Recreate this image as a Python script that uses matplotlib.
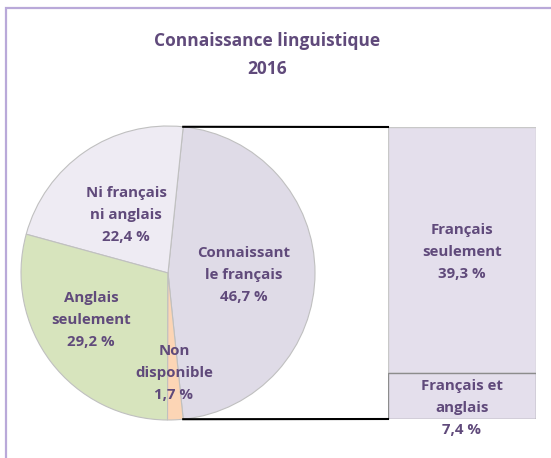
import numpy as np
import matplotlib.pyplot as plt
from matplotlib.patches import Rectangle

plt.rcParams['font.family'] = ['Open Sans', 'DejaVu Sans']

# Pie data (counter-clockwise, starting with the exploded slice)
pie_labels = ["Connaissant\nle français", "Ni français\nni anglais",
              "Anglais\nseulement", "Non\ndisponible"]
pie_values = [46.7, 22.4, 29.2, 1.7]
pie_colors = ["#dfdbe7", "#eeebf3", "#d7e4bd", "#fcd5b5"]

# Breakdown of "Connaissant le français" (bottom to top)
bar_labels = ["Français et\nanglais", "Français\nseulement"]
bar_values = [7.4, 39.3]
bar_colors = ["#e4dfec", "#e4dfec"]
bar_edges = ["#8c8c8c", "#c8c8c8"]

txt_color = "#604a7b"

W, H = 551, 458
fig = plt.figure(figsize=(W / 100, H / 100), dpi=100)

# bar of pie (added first so that the texts of the main axes sit on top)
bx0, bx1, by0, by1 = 388, 536, 39, 331
bax = fig.add_axes([bx0 / W, by0 / H, (bx1 - bx0) / W, (by1 - by0) / H])
bax.bar(0, bar_values[1], bottom=bar_values[0], width=1, color=bar_colors[1],
        edgecolor=bar_edges[1], linewidth=1)
bax.bar(0, bar_values[0], width=1, color=bar_colors[0], edgecolor=bar_edges[0], linewidth=1)
bax.set_xlim(-0.5, 0.5)
bax.set_ylim(0, sum(bar_values))
bax.axis("off")

ax = fig.add_axes([0, 0, 1, 1])
ax.set_zorder(2)

# pie
cx, cy, r = 168, 185, 147
start = -pie_values[0] / 2 * 3.6
ax.pie(pie_values, colors=pie_colors, startangle=start, center=(cx, cy), radius=r,
       wedgeprops=dict(edgecolor="#c0c0c0", linewidth=0.8))
ax.set_xlim(0, W)
ax.set_ylim(0, H)
ax.set_aspect("equal")
ax.axis("off")

# frame of the chart area
ax.add_patch(Rectangle((6, -20), 700, 470, fill=False, edgecolor="#b9a9d9", lw=1.6))

# title
ax.text(267, H - 55, "Connaissance linguistique\n2016", ha="center", va="center",
        fontsize=12.5, fontweight="bold", color=txt_color, linespacing=1.65)

# pie labels
pie_pos = [(244, 275), (126, 215), (91, 320), (174, 373)]
for lab, val, (x, y) in zip(pie_labels, pie_values, pie_pos):
    ax.text(x, H - y, f"{lab}\n{val:.1f} %".replace(".", ","), ha="center", va="center",
            fontsize=10.8, fontweight="bold", color=txt_color, linespacing=1.72)

bar_pos = [(462, 408), (462, 252)]
for lab, val, (x, y) in zip(bar_labels, bar_values, bar_pos):
    ax.text(x, H - y, f"{lab}\n{val:.1f} %".replace(".", ","), ha="center", va="center",
            fontsize=10.8, fontweight="bold", color=txt_color, linespacing=1.72)

# connector lines
a = np.deg2rad(start + pie_values[0] * 3.6)
b = np.deg2rad(start)
ax.plot([cx + r * np.cos(a), bx0], [cy + r * np.sin(a), by1], color="black", lw=1.5)
ax.plot([cx + r * np.cos(b), bx0], [cy + r * np.sin(b), by0], color="black", lw=1.5)

fig.savefig("out.png", dpi=100)
